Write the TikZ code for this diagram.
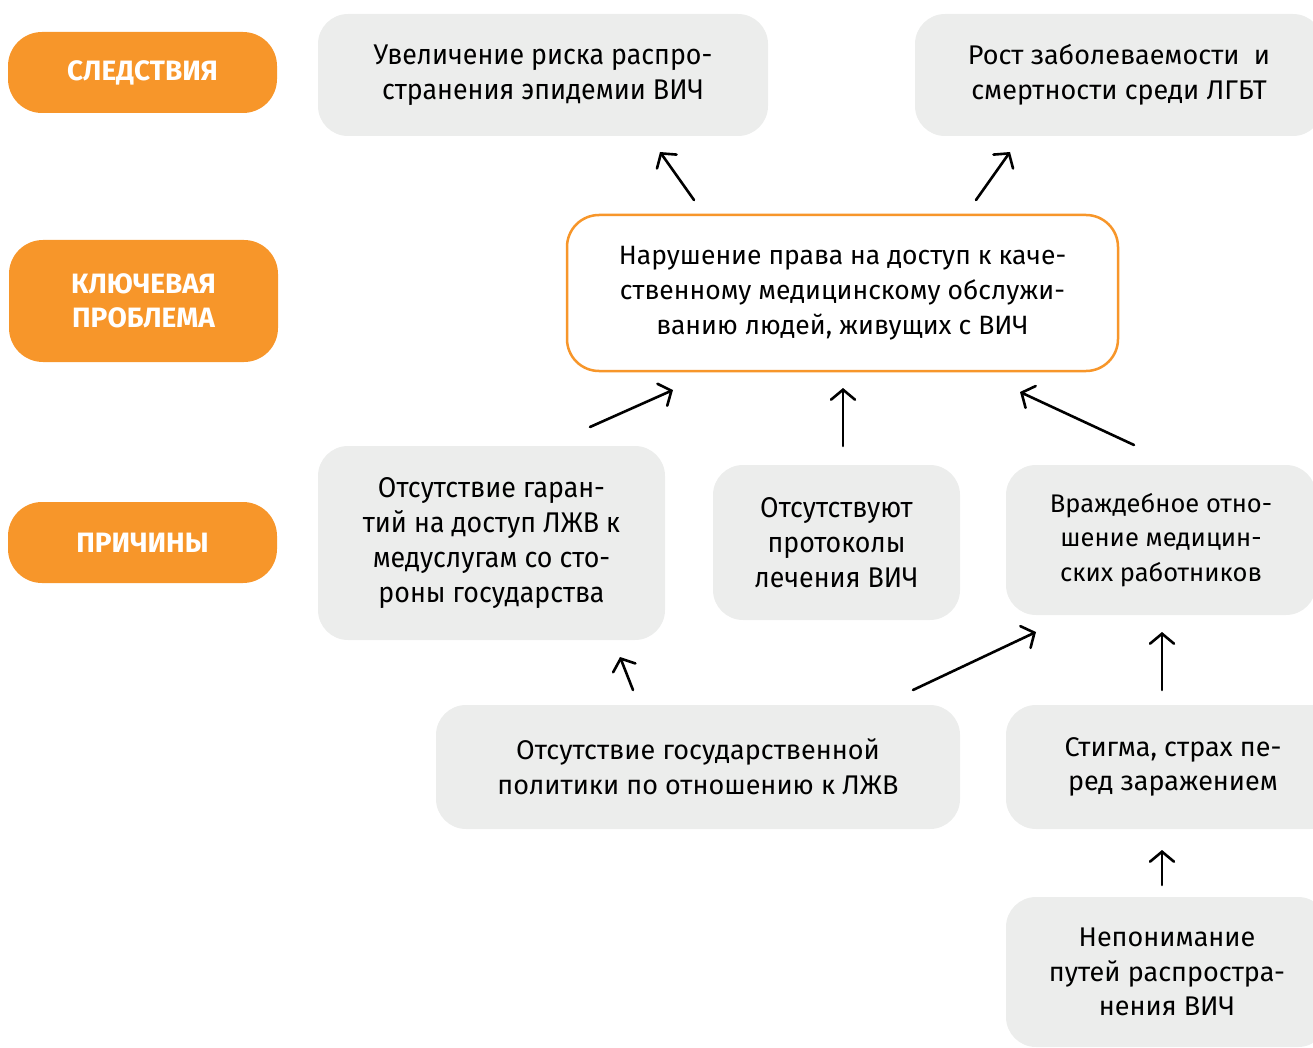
\documentclass[tikz,border=0pt]{standalone}
\usepackage{fontspec}
\setmainfont{Fira Sans}
\newfontfamily\condfont[FakeStretch=0.94]{Fira Sans}
\usetikzlibrary{arrows.meta}
\definecolor{orng}{HTML}{F7962A}
\definecolor{greybox}{HTML}{ECEDEC}
\tikzset{
  lbl/.style={fill=orng, rounded corners=34pt, text=white, align=center,
    font=\fontsize{28}{34}\selectfont\bfseries, inner sep=0pt},
  gbox/.style={fill=greybox, rounded corners=30pt, align=center,
    font=\fontsize{27}{34.7}\selectfont, inner sep=0pt},
  cbox/.style={gbox, font=\condfont\fontsize{28.5}{34.7}\selectfont},
  keybox/.style={draw=orng, line width=2.5pt, fill=white, rounded corners=32pt,
    align=center, font=\fontsize{26.5}{34.7}\selectfont, inner sep=0pt},
  arr/.style={line width=2.6pt, line cap=round,
    -{Straight Barb[length=10pt,width=24pt,line cap=round]}}
}
\begin{document}
\begin{tikzpicture}[x=1pt,y=-1pt]
\useasboundingbox (0,0) rectangle (1313,1048);
\clip (0,0) rectangle (1313,1048);
% left labels
\node[lbl, minimum width=269pt, minimum height=81pt] (sl) at (142.5,72.5) {СЛЕДСТВИЯ};
\node[lbl, minimum width=269pt, minimum height=122pt] (kp) at (143.5,301) {КЛЮЧЕВАЯ\\ПРОБЛЕМА};
\node[lbl, minimum width=269pt, minimum height=81pt] (pr) at (142.5,542.5) {ПРИЧИНЫ};
% consequences
\node[cbox, minimum width=450pt, minimum height=122pt] (c1) at (543,75)
  {Увеличение риска распро-\\странения эпидемии ВИЧ};
\node[gbox, minimum width=408pt, minimum height=122pt] (c2) at (1119,75)
  {Рост заболеваемости~~и\\смертности среди ЛГБТ};
% key problem
\node[keybox, minimum width=551pt, minimum height=156pt] (key) at (842.5,293)
  {Нарушение права на доступ к каче-\\ственному медицинскому обслужи-\\ванию людей, живущих с ВИЧ};
% causes
\node[cbox, minimum width=347pt, minimum height=194pt] (r1) at (491.5,543)
  {Отсутствие гаран-\\тий на доступ ЛЖВ к\\медуслугам со сто-\\роны государства};
\node[cbox, minimum width=247pt, minimum height=155pt] (r2) at (836.5,542.5)
  {Отсутствуют\\протоколы\\лечения ВИЧ};
\node[gbox, minimum width=310pt, minimum height=150pt, font=\fontsize{25.5}{34.7}\selectfont] (r3) at (1161,540)
  {Враждебное отно-\\шение медицин-\\ских работников};
% deeper causes
\node[gbox, minimum width=524pt, minimum height=124pt] (pol) at (698,767)
  {Отсутствие государственной\\политики по отношению к ЛЖВ};
\node[gbox, minimum width=334pt, minimum height=124pt] (stg) at (1173,767)
  {Стигма, страх пе-\\ред заражением};
\node[gbox, minimum width=322pt, minimum height=150pt] (nep) at (1167,972)
  {Непонимание\\путей распростра-\\нения ВИЧ};
% arrow endpoints
\coordinate (a1s) at (694,200); \coordinate (a1e) at (660,152);
\coordinate (a2s) at (976,200); \coordinate (a2e) at (1010,152);
\coordinate (a3s) at (590,427); \coordinate (a3e) at (673,390);
\coordinate (a4s) at (843,446); \coordinate (a4e) at (843,388);
\coordinate (a5s) at (1134,445); \coordinate (a5e) at (1020,392);
\coordinate (a6s) at (633,690); \coordinate (a6e) at (620,657);
\coordinate (a7s) at (913,690); \coordinate (a7e) at (1036,632);
\coordinate (a8s) at (1162,690); \coordinate (a8e) at (1162,632);
\coordinate (a9s) at (1162,885); \coordinate (a9e) at (1162,850);
\draw[arr] (a1s) -- (a1e);
\draw[arr] (a2s) -- (a2e);
\draw[arr] (a3s) -- (a3e);
\draw[arr] (a4s) -- (a4e);
\draw[arr] (a5s) -- (a5e);
\draw[arr] (a6s) -- (a6e);
\draw[arr] (a7s) -- (a7e);
\draw[arr] (a8s) -- (a8e);
\draw[arr] (a9s) -- (a9e);
\end{tikzpicture}
\end{document}
